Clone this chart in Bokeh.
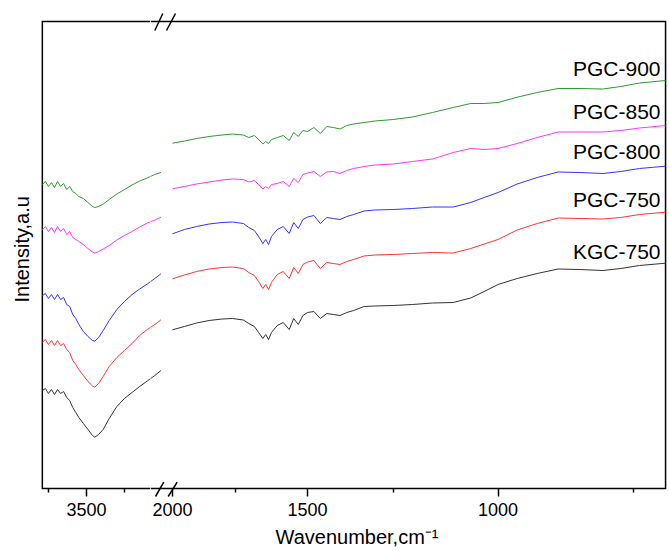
import math
from bokeh.plotting import figure
from bokeh.models import Range1d, FixedTicker, Label, Title, BasicTickFormatter, LinearScale
from bokeh.layouts import row
from bokeh.embed import file_html
from bokeh.resources import INLINE

# ---------------- data (intensity, arbitrary units, offset as plotted) ----------------
wn_left = [3790, 3770, 3750, 3730, 3710, 3690, 3670, 3650, 3630, 3610, 3590, 3570, 3550, 3520,
           3490, 3460, 3445, 3420, 3390, 3350, 3300, 3250, 3200, 3150, 3100, 3050, 3010]

pgc900_left = [304, 307, 302, 306, 301, 307, 302, 305, 299, 302, 297, 295, 292, 290, 286, 282, 281,
               282, 284.5, 289, 294.5, 299, 303.5, 307.5, 310.5, 314, 316]
pgc850_left = [259, 262, 257, 261, 256, 262, 257, 260, 254, 257, 251, 249, 247, 244, 240, 236.5, 235.3,
               237, 239.5, 243, 248.5, 253, 257, 261.5, 265.5, 268.5, 271.3]
pgc800_left = [193, 195, 190, 194, 189, 194, 189, 191, 184, 182, 174, 170, 164, 157, 152, 148, 147.3,
               151, 158, 168, 179, 187, 194, 199.5, 204.5, 210, 214.7]
pgc750_left = [146.3, 149, 144, 148, 143, 148, 143, 145, 139, 136, 128, 124, 119, 113, 107, 102.5, 101.3,
               105, 112, 122, 131, 138, 145, 153, 159, 164, 168.7]
kgc750_left = [98, 100, 95, 99, 94, 99, 95, 97, 91, 88, 81, 76, 71, 65, 59, 53, 51.3,
               54, 59, 70, 82, 90, 96, 102, 107.5, 113, 118]

wn_right = [2000, 1950, 1900, 1850, 1800, 1760, 1720, 1700, 1680, 1665,
            1650, 1640, 1630, 1620, 1600, 1580, 1560, 1545, 1530, 1515,
            1500, 1480, 1460, 1440, 1420, 1400, 1380, 1360, 1330, 1300,
            1250, 1200, 1150, 1100, 1060, 1030, 1000, 960, 920, 880,
            840, 800, 770, 740, 700]

pgc900_right = [345.3, 347.5, 350, 352, 353.5, 354.5, 353.5, 351, 353, 349,
                344.5, 347, 345, 349, 351, 353, 348, 356, 352, 358,
                357, 361, 355, 362, 361, 359.5, 363, 364.5, 366, 367.5,
                369, 371.5, 376, 381, 385, 385, 386, 391.3, 396, 400,
                400, 399.5, 402, 405.5, 408]
pgc850_right = [299.7, 302, 304.5, 306.5, 308.5, 309.5, 309, 306.5, 308, 304,
                299.5, 302, 300, 304, 305, 307, 302, 310, 306, 314,
                315.5, 317, 312, 316.5, 317, 315, 318, 320, 322, 323.5,
                324.5, 327, 329.5, 336, 340, 339, 340, 345, 351, 356.5,
                356.5, 356.5, 358, 360.5, 363]
pgc800_right = [254.7, 259, 262, 264.5, 266, 266.5, 265, 261, 258, 252,
                245, 249, 244, 252, 259, 262, 255, 266, 260, 269,
                271.5, 273, 265, 271, 270, 269, 272, 274, 277.5, 278.5,
                279, 280, 281.5, 281.5, 286, 291, 296, 304.5, 311, 316.5,
                316, 315, 317, 320, 322.3]
pgc750_right = [209.7, 213.5, 217, 219.5, 221, 221.5, 220, 216, 213, 207,
                200, 204, 199, 206, 214, 217, 210, 221, 215, 224,
                226.5, 228, 220, 226, 225, 224, 227, 229, 232.5, 233.5,
                234, 235, 236, 235.5, 240, 244.5, 249, 258.5, 265, 270.5,
                270, 269.5, 271, 274, 276.3]
kgc750_right = [158.7, 162, 165.5, 168, 169.5, 170, 168.5, 165, 162, 156,
                150, 154, 149, 156, 163, 166, 159, 170, 164, 173,
                176, 177, 170, 175, 174, 173, 176, 178, 182, 182.5,
                183, 184, 185.5, 186, 190.5, 197, 204, 210, 215, 219.5,
                219, 218, 220, 223, 225.3]

series_names = ["PGC-900", "PGC-850", "PGC-800", "PGC-750", "KGC-750"]
series_colors = ["#2f9a2f", "#ff33ff", "#3333ff", "#ff3333", "#333333"]
left_series = [pgc900_left, pgc850_left, pgc800_left, pgc750_left, kgc750_left]
right_series = [pgc900_right, pgc850_right, pgc800_right, pgc750_right, kgc750_right]

left_ticks = [3500]
left_minor = [3750, 3250]
right_ticks = [2000, 1500, 1000]
right_minor = [1750, 1250, 750]

# axis segment limits (where the boxed frame starts / ends)
LEFT_START = 3790     # left edge of the boxed plot
RIGHT_END = 700       # right edge of the boxed plot
Y_LOW, Y_HIGH = 0, 467  # bottom / top border of the box

# ---------------- layout ----------------
FONT = "Liberation Sans"
H = 551
TOP = 11
BOTTOM = 26
L_BORDER = 39
L_FRAME = 111
R_FRAME = 518
R_BORDER = 1
LIN_PER_PX = 6.5772                 # cm-1 per pixel on the left (linear) segment
LIN_AT_FRAME = 3808.7               # value at left edge of the left panel
LOG_PX = 469.66                     # pixels per e-fold on the right (log) segment
LOG_AT_FRAME = 2095.9               # value at left edge of the right panel

XL = (LIN_AT_FRAME, LIN_AT_FRAME - L_FRAME * LIN_PER_PX)
XR = (LOG_AT_FRAME, LOG_AT_FRAME * math.exp(-R_FRAME / LOG_PX))
XR_LIN = (XL[1], XL[1] - R_FRAME * LIN_PER_PX)   # linear scale continued under the right panel
FRAME_H = H - TOP - BOTTOM
YR = (Y_HIGH + 10 - FRAME_H, Y_HIGH + 10)


def style_ticked(ax):
    ax.fixed_location = Y_LOW
    ax.axis_line_color = None
    ax.major_tick_line_width = 1.5
    ax.minor_tick_line_width = 1.5
    ax.major_tick_line_color = "black"
    ax.minor_tick_line_color = "black"
    ax.major_tick_out = 8
    ax.major_tick_in = 0
    ax.minor_tick_out = 4
    ax.minor_tick_in = 0
    ax.major_label_text_font = FONT
    ax.major_label_text_font_size = "18px"
    ax.major_label_text_color = "black"
    ax.major_label_standoff = 6


pl = figure(width=L_BORDER + L_FRAME, height=H, x_range=Range1d(*XL), y_range=Range1d(*YR),
            y_axis_location=None, output_backend="svg", toolbar_location=None,
            min_border_left=L_BORDER, min_border_right=0, min_border_top=TOP, min_border_bottom=BOTTOM)
pr = figure(width=R_FRAME + R_BORDER, height=H, x_range=Range1d(*XR), y_range=Range1d(*YR),
            x_axis_type="log", y_axis_location=None,
            output_backend="svg", toolbar_location=None,
            min_border_left=0, min_border_right=R_BORDER, min_border_top=TOP, min_border_bottom=BOTTOM)
pr.extra_x_ranges = {"lin": Range1d(*XR_LIN)}
pr.extra_x_scales = {"lin": LinearScale()}

for p in (pl, pr):
    p.outline_line_color = None
    p.grid.visible = False
    p.background_fill_color = "white"
    p.border_fill_color = "white"

pl.xaxis[0].ticker = FixedTicker(ticks=left_ticks, minor_ticks=left_minor)
style_ticked(pl.xaxis[0])
pr.xaxis[0].ticker = FixedTicker(ticks=right_ticks, minor_ticks=right_minor)
pr.xaxis[0].formatter = BasicTickFormatter(use_scientific=False)
style_ticked(pr.xaxis[0])

# box border
pl.line([XL[1], LEFT_START, LEFT_START, XL[1]], [Y_HIGH, Y_HIGH, Y_LOW, Y_LOW],
        line_color="black", line_width=1.5, line_join="miter")
pr.line([XR[0], RIGHT_END, RIGHT_END, XR[0]], [Y_HIGH, Y_HIGH, Y_LOW, Y_LOW],
        line_color="black", line_width=1.5, line_join="miter")

# spectra
for ys, col in zip(left_series, series_colors):
    pl.line(wn_left, ys, line_color=col, line_width=1)
    pr.line(wn_left, ys, line_color=col, line_width=1, x_range_name="lin")
for ys, col in zip(right_series, series_colors):
    pr.line(wn_right, ys, line_color=col, line_width=1)


# axis break marks "//" at top and bottom (pixel offsets on the page -> right panel data space)
def bx(px):
    return LOG_AT_FRAME * math.exp(-(px - (L_BORDER + L_FRAME)) / LOG_PX)


def by(py):
    return 488 - py


for (x0, y0, x1, y1) in [(155, 496, 163.3, 481.7), (167.7, 496, 176.7, 481.7),
                         (154.3, 30, 162.3, 13), (166, 30, 175, 13)]:
    pr.line([bx(x0), bx(x1)], [by(y0), by(y1)], line_color="black", line_width=1.5)

# series labels
label_y = [420, 377, 337, 289, 237]
for name, ly in zip(series_names, label_y):
    pr.add_layout(Label(x=510, y=ly, x_units="screen", y_units="data", text=name,
                        text_align="right", text_baseline="middle",
                        text_font=FONT, text_font_size="21px", text_color="black"))

# axis titles
pr.add_layout(Title(text="Wavenumber,cm\u207b\u00b9", align="left", offset=125, standoff=0,
                    vertical_align="top", text_font=FONT, text_font_size="20px",
                    text_font_style="normal", text_color="black"), "below")
pl.add_layout(Title(text="Intensity,a.u", align="left", offset=223, standoff=13,
                    text_font=FONT, text_font_size="20px",
                    text_font_style="normal", text_color="black"), "left")

layout = row(pl, pr)
open("out.html", "w").write(file_html(layout, INLINE))
